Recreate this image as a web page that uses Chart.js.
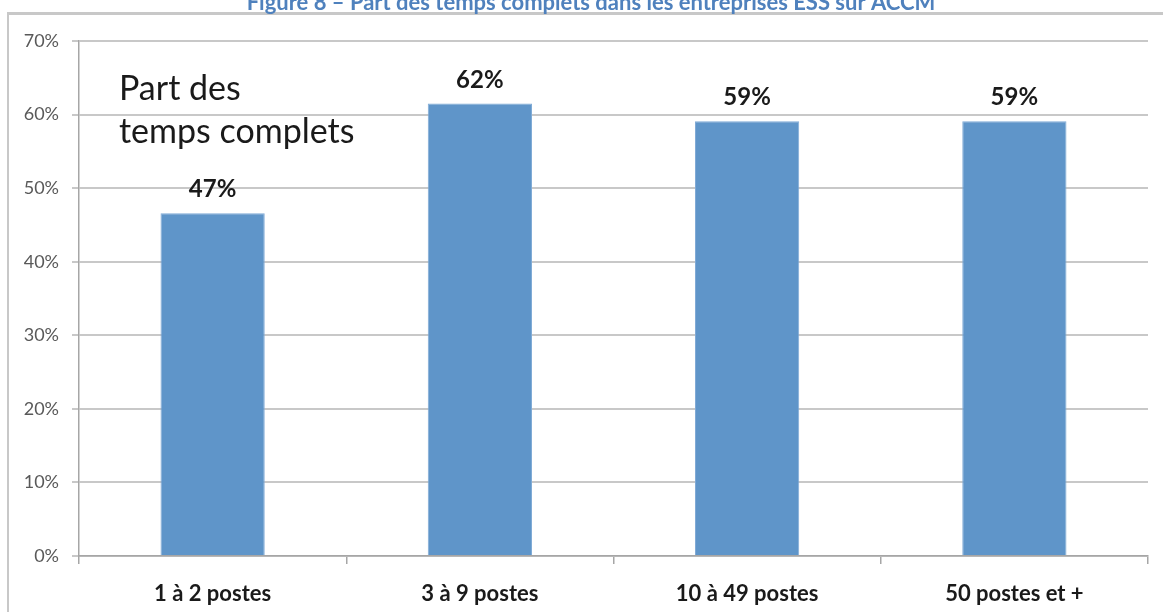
<!DOCTYPE html>
<html>
<head>
<meta charset="utf-8">
<script src="https://cdn.jsdelivr.net/npm/chart.js@4"></script>
<style>
  html, body { margin: 0; padding: 0; background: #fff; }
  #wrap { position: relative; width: 1163px; height: 612px; }
</style>
</head>
<body>
<div id="wrap"><canvas id="myChart"></canvas></div>
<script>
const categories = ['1 à 2 postes', '3 à 9 postes', '10 à 49 postes', '50 postes et +'];
const partTempsComplets = [46.6, 61.5, 59.1, 59.1];
const valueLabels = ['47%', '62%', '59%', '59%'];
const yTicks = [0, 10, 20, 30, 40, 50, 60, 70];
const figureTitle = 'Figure 8 – Part des temps complets dans les entreprises ESS sur ACCM';
const boxText = ['Part des', 'temps complets'];

const FONT = 'Lato, "Open Sans", sans-serif';

// cadre gris + titre coupé en haut + texte dans le graphe + étiquettes des barres
const decorations = {
    id: 'decorations',
    beforeDraw(chart) {
        const ctx = chart.ctx;
        ctx.save();
        ctx.fillStyle = '#C8C8C8';
        ctx.fillRect(7, 12, 2, 612 - 12);
        ctx.fillRect(7, 12, 1163 - 7, 3);
        ctx.restore();
    },
    afterDatasetsDraw(chart) {
        const ctx = chart.ctx;
        ctx.save();
        ctx.fillStyle = '#4F81BD';
        ctx.font = 'bold 22px ' + FONT;
        ctx.textAlign = 'center';
        ctx.textBaseline = 'alphabetic';
        ctx.fillText(figureTitle, 591, 10);

        ctx.fillStyle = '#1a1a1a';
        ctx.font = '34px ' + FONT;
        ctx.textAlign = 'left';
        ctx.fillText(boxText[0], 119, 100);
        ctx.fillText(boxText[1], 119, 143);

        ctx.font = 'bold 24px ' + FONT;
        ctx.textAlign = 'center';
        chart.getDatasetMeta(0).data.forEach((bar, i) => {
            ctx.fillText(valueLabels[i], bar.x, bar.y - 16);
        });
        ctx.restore();
    }
};

const ctx = document.getElementById('myChart').getContext('2d');
new Chart(ctx, {
    type: 'bar',
    data: {
        labels: categories,
        datasets: [{
            label: 'Part des temps complets',
            data: partTempsComplets,
            backgroundColor: '#5F95C9',
            borderColor: '#7FAAD6',
            borderWidth: 1,
            categoryPercentage: 1,
            barPercentage: 0.39
        }]
    },
    options: {
        responsive: true,
        maintainAspectRatio: false,
        animation: false,
        layout: { padding: { top: 41, right: 15, left: 0, bottom: 0 } },
        plugins: {
            legend: { display: false },
            tooltip: { enabled: false }
        },
        scales: {
            x: {
                afterFit(scale) { scale.height = 56; },
                grid: {
                    offset: true,
                    drawOnChartArea: false,
                    drawTicks: true,
                    tickLength: 8,
                    color: '#A6A6A6',
                    lineWidth: 1.5
                },
                border: { color: '#A6A6A6', width: 1.5 },
                ticks: {
                    color: '#1a1a1a',
                    font: { family: FONT, size: 22, weight: 'bold' },
                    padding: 17
                }
            },
            y: {
                min: yTicks[0],
                max: yTicks[yTicks.length - 1],
                afterFit(scale) { scale.width = 79; },
                afterBuildTicks(scale) { scale.ticks = yTicks.map(v => ({ value: v })); },
                grid: {
                    color: '#C8C8C8',
                    lineWidth: 2,
                    tickLength: 7
                },
                border: { color: '#A6A6A6', width: 1.5 },
                ticks: {
                    color: '#595959',
                    font: { family: FONT, size: 18 },
                    padding: 13,
                    callback: v => v + '%'
                }
            }
        }
    },
    plugins: [decorations]
});
</script>
</body>
</html>
